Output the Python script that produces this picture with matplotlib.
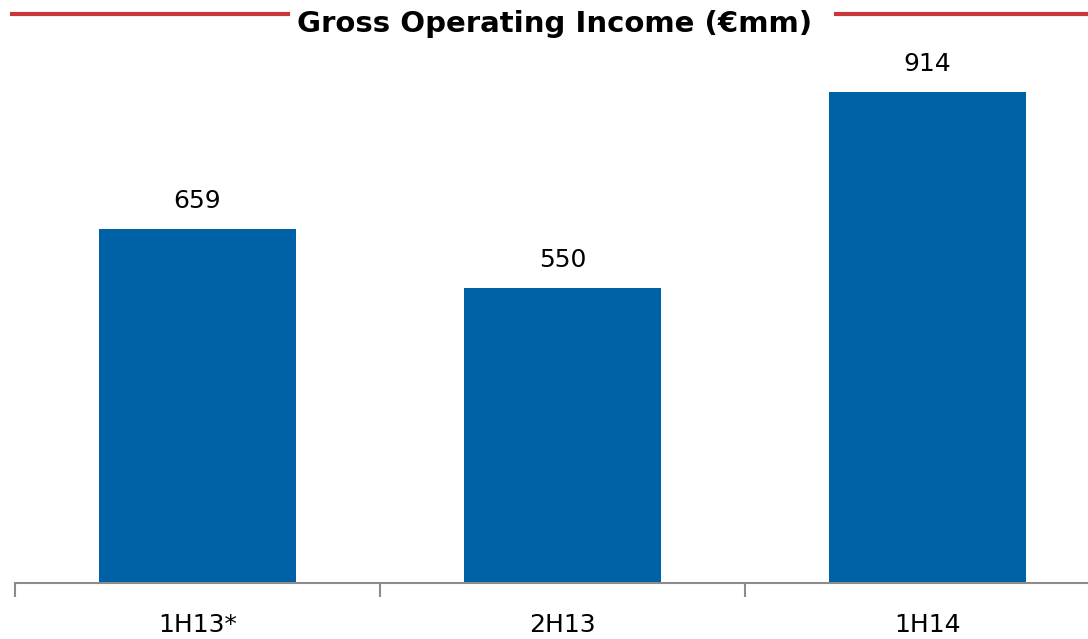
import matplotlib.pyplot as plt

periods = ["1H13*", "2H13", "1H14"]
income = [659, 550, 914]

fig = plt.figure(figsize=(10.88, 6.39), dpi=100)
W, H = 1088, 639
# axes spans x 15..1110 px, baseline at y=583 px
ax = fig.add_axes([15 / W, (H - 583) / H, 1095 / W, 537 / H])
ax.set_xlim(-0.5, 2.5)
ax.set_ylim(0, 1000)

bars = ax.bar(range(len(periods)), income, width=0.54, color="#0062A6")
for b, v in zip(bars, income):
    ax.text(b.get_x() + b.get_width() / 2, v + 30, str(v), ha="center",
            va="bottom", fontsize=18, color="black")

for s in ["top", "right", "left"]:
    ax.spines[s].set_visible(False)
ax.spines["bottom"].set_color("#8c8c8c")
ax.spines["bottom"].set_linewidth(1.5)
ax.set_yticks([])
ax.set_xticks([-0.5, 0.5, 1.5, 2.5])
ax.set_xticklabels([])
ax.tick_params(axis="x", length=10, width=1.5, color="#8c8c8c")
for i, p in enumerate(periods):
    ax.text(i, -78, p, ha="center", va="center", fontsize=18,
            transform=ax.transData, clip_on=False)

# title with red rules
fig.text(555 / W, 1 - 24 / H, "Gross Operating Income (€mm)", ha="center",
         va="center", fontsize=21, fontweight="bold")
fig.add_artist(plt.Line2D([12 / W, 288 / W], [1 - 14 / H] * 2,
                          color="#C8383A", linewidth=3))
fig.add_artist(plt.Line2D([836 / W, 1.0], [1 - 14 / H] * 2,
                          color="#C8383A", linewidth=3))

fig.savefig("out.png", dpi=100)
